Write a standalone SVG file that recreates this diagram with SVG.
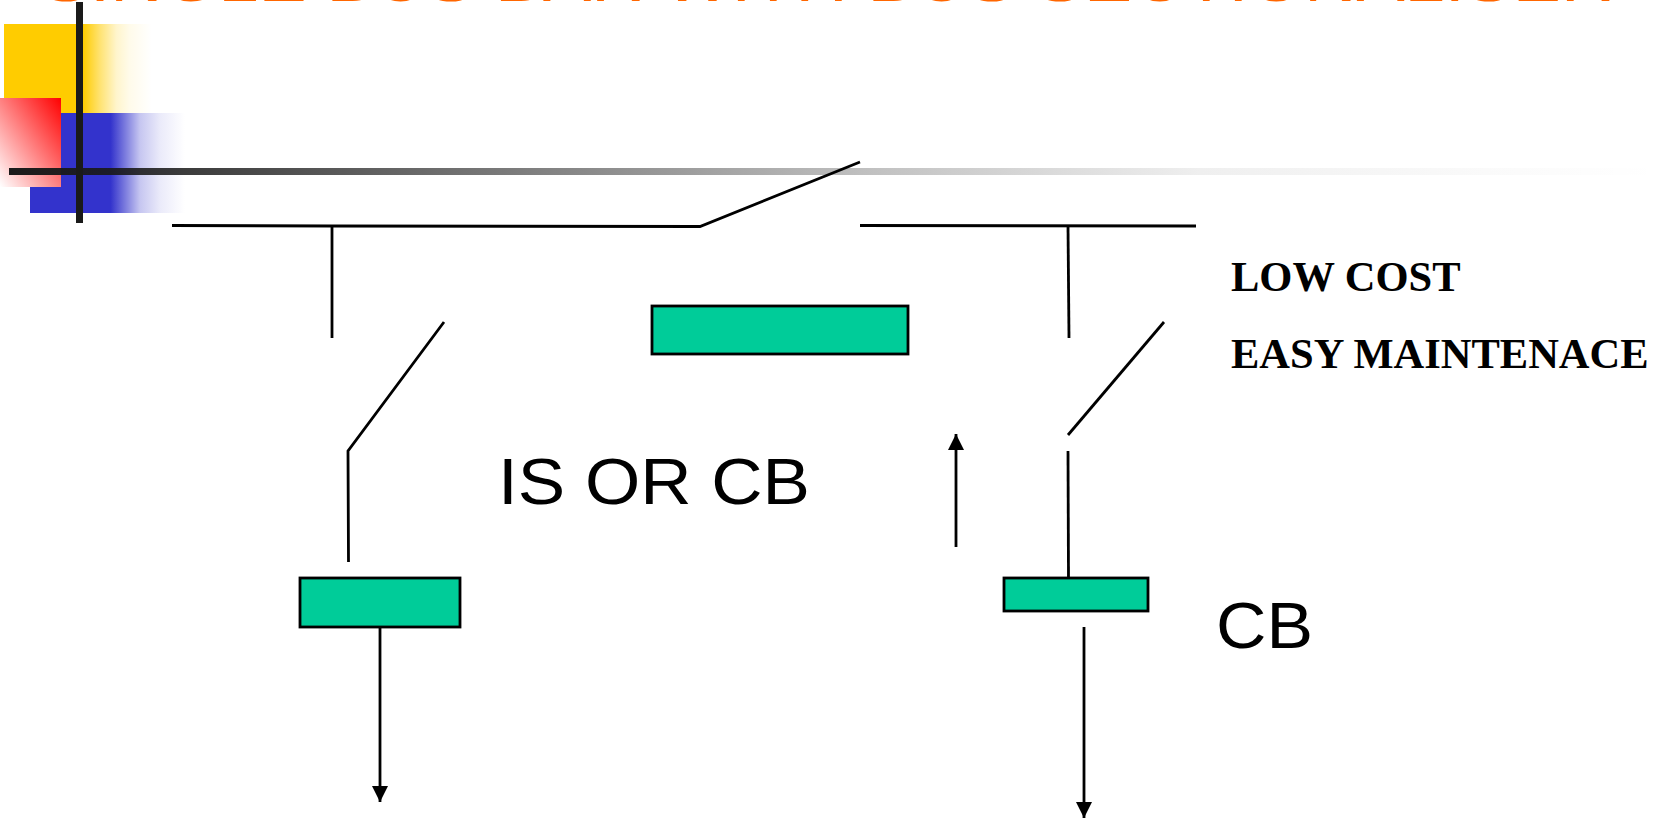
<svg xmlns="http://www.w3.org/2000/svg" width="1662" height="818" viewBox="0 0 1662 818">
<style>
.w{fill:none;stroke:#000;stroke-width:2.8}
.b{fill:#00cc99;stroke:#000;stroke-width:2.8}
.s{font-family:"Liberation Sans",Arial,sans-serif;fill:#000;font-size:64px}
.t{font-family:"Liberation Serif","Times New Roman",serif;font-weight:bold;font-size:42.500px;fill:#000}
</style>
<defs>
<marker id="a" markerUnits="userSpaceOnUse" markerWidth="17" markerHeight="16" refX="16" refY="8" orient="auto" viewBox="0 0 17 16"><path d="M0 0L16 8L0 16Z" fill="#000"/></marker>
<linearGradient id="y"><stop offset="0.534" stop-color="#fc0"/><stop offset="0.65" stop-color="#fc0" stop-opacity="0.55"/><stop offset="0.76" stop-color="#fc0" stop-opacity="0.2"/><stop offset="0.85" stop-color="#fc0" stop-opacity="0.08"/><stop offset="1" stop-color="#fc0" stop-opacity="0"/></linearGradient>
<linearGradient id="u"><stop offset="0.52" stop-color="#33c"/><stop offset="0.626" stop-color="#33c" stop-opacity="0.6"/><stop offset="0.71" stop-color="#33c" stop-opacity="0.28"/><stop offset="0.84" stop-color="#33c" stop-opacity="0.1"/><stop offset="1" stop-color="#33c" stop-opacity="0"/></linearGradient>
<linearGradient id="r" x1="1" y1="0" x2="0" y2="1"><stop offset="0" stop-color="#f00"/><stop offset="1" stop-color="#fff"/></linearGradient>
<linearGradient id="k"><stop offset="0" stop-color="#1a1a1a"/><stop offset="0.237" stop-color="#1a1a1a" stop-opacity="0.67"/><stop offset="0.515" stop-color="#1a1a1a" stop-opacity="0.28"/><stop offset="0.72" stop-color="#1a1a1a" stop-opacity="0.07"/><stop offset="0.9" stop-color="#1a1a1a" stop-opacity="0.02"/><stop offset="1" stop-color="#1a1a1a" stop-opacity="0"/></linearGradient>
</defs>
<g id="decor">
<rect x="4" y="24" width="148" height="89" fill="url(#y)"/>
<rect x="30" y="113" width="155" height="100" fill="url(#u)"/>
<rect x="0" y="98" width="61" height="89" fill="url(#r)"/>
<rect x="76" y="2" width="7" height="221" fill="#1a1a1a"/>
<rect x="9" y="168" width="1653" height="7" fill="url(#k)"/>
</g>
<text id="title" x="42" y="1.200" font-family="Liberation Sans,Arial,sans-serif" font-size="60" fill="#ff6600" textLength="1571" lengthAdjust="spacingAndGlyphs">SINGLE BUS BAR WITH BUS SECTIONALISER</text>
<g id="connectors">
<path class="w" d="M172 225.500L332 226L700 226.500L860 162"/>
<path class="w" d="M860 225.500L1196 226"/>
<path class="w" d="M332 226V338"/>
<path class="w" d="M1068 226L1069 338"/>
<path class="w" d="M444 322L348 451L348.500 562"/>
<path class="w" d="M1164 322L1068 435"/>
<path class="w" d="M1068 451L1068.500 578"/>
<path class="w" d="M380 627V802" marker-end="url(#a)"/>
<path class="w" d="M1084 627V818" marker-end="url(#a)"/>
<path class="w" d="M956 547V434" marker-end="url(#a)"/>
</g>
<g id="breaker-top"><rect class="b" x="652" y="306" width="256" height="48"/></g>
<g id="breaker-left"><rect class="b" x="300" y="578" width="160" height="49"/></g>
<g id="breaker-right"><rect class="b" x="1004" y="578" width="144" height="33"/></g>
<g id="label-is"><text class="s" x="498" y="504" textLength="312" lengthAdjust="spacingAndGlyphs">IS OR CB</text></g>
<g id="label-cb"><text class="s" x="1216" y="648" textLength="97" lengthAdjust="spacingAndGlyphs">CB</text></g>
<g id="label-low"><text class="t" x="1231" y="291">LOW COST</text></g>
<g id="label-easy"><text class="t" x="1231" y="368">EASY MAINTENACE</text></g>
</svg>
